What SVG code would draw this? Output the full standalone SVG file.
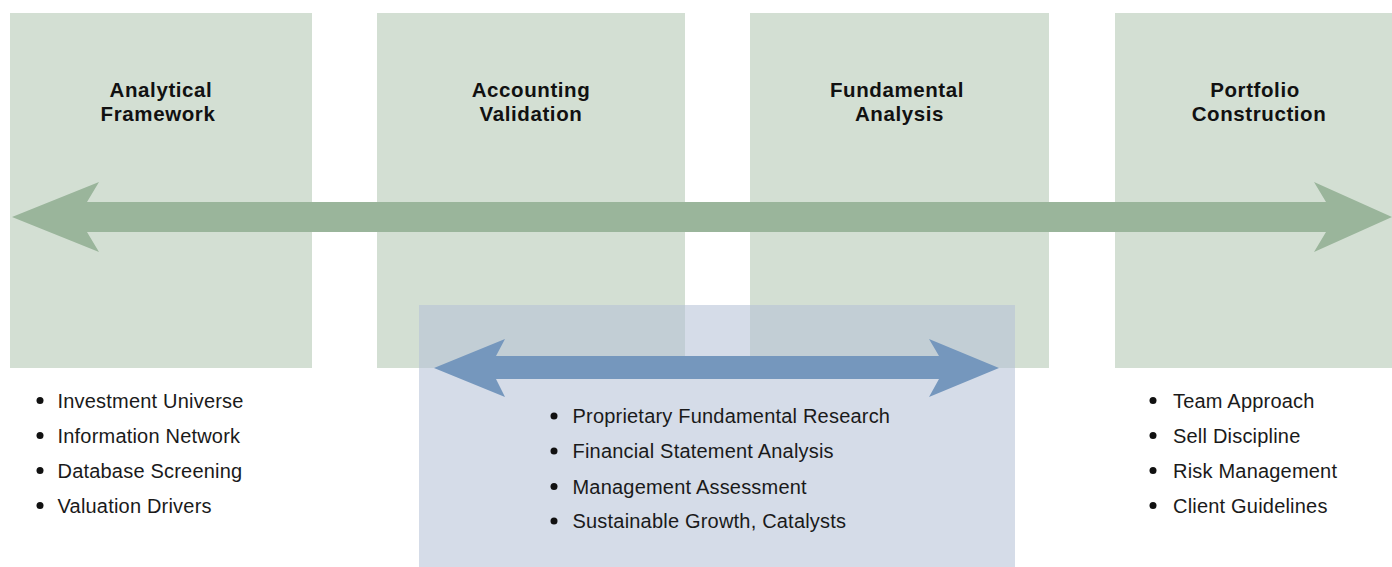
<svg xmlns="http://www.w3.org/2000/svg" width="1392" height="567" viewBox="0 0 1392 567">
<style>
.box{fill:#d3dfd3}
.title{font-family:"Liberation Sans",Arial,sans-serif;font-weight:bold;font-size:20.5px;letter-spacing:0.6px;fill:#111;text-anchor:middle}
.item{font-family:"Liberation Sans",Arial,sans-serif;font-size:20px;letter-spacing:0.2px;fill:#1a1a1a}
.dot{fill:#111}
</style>
<rect width="1392" height="567" fill="#ffffff"/>
<g id="node-analytical-framework">
<rect class="box" x="10" y="13" width="302" height="355"/>
<text class="title" x="161" y="97">Analytical</text>
<text class="title" x="158" y="121">Framework</text>
</g>
<g id="node-accounting-validation">
<rect class="box" x="377" y="13" width="308" height="355"/>
<text class="title" x="531" y="97">Accounting</text>
<text class="title" x="531" y="121">Validation</text>
</g>
<g id="node-fundamental-analysis">
<rect class="box" x="750" y="13" width="299" height="355"/>
<text class="title" x="897" y="97">Fundamental</text>
<text class="title" x="899.5" y="121">Analysis</text>
</g>
<g id="node-portfolio-construction">
<rect class="box" x="1115" y="13" width="287" height="355"/>
<text class="title" x="1255" y="97">Portfolio</text>
<text class="title" x="1259" y="121">Construction</text>
</g>
<g id="connectors">
<polygon fill="#9ab59b" points="12,217 99,182 87,202 1326,202 1314,182 1392,217 1314,252 1326,232 87,232 99,252"/>
</g>
<g id="node-research-overlay">
<rect x="419" y="305" width="596" height="262" fill="#b5c2d7" fill-opacity="0.57"/>
<polygon fill="#7597bd" points="434,368 505,339 496,356 939,356 929,339 999,368 929,397 939,379 496,379 505,397"/>
<circle class="dot" cx="554" cy="416" r="3.5"/>
<text class="item" x="572.5" y="423">Proprietary Fundamental Research</text>
<circle class="dot" cx="554" cy="451" r="3.5"/>
<text class="item" x="572.5" y="458">Financial Statement Analysis</text>
<circle class="dot" cx="554" cy="486.5" r="3.5"/>
<text class="item" x="572.5" y="493.5">Management Assessment</text>
<circle class="dot" cx="554" cy="521" r="3.5"/>
<text class="item" x="572.5" y="528">Sustainable Growth, Catalysts</text>
</g>
<g id="node-left-list">
<circle class="dot" cx="40" cy="400.5" r="3.5"/>
<text class="item" x="57.5" y="407.5">Investment Universe</text>
<circle class="dot" cx="40" cy="435.5" r="3.5"/>
<text class="item" x="57.5" y="442.5">Information Network</text>
<circle class="dot" cx="40" cy="470.5" r="3.5"/>
<text class="item" x="57.5" y="477.5">Database Screening</text>
<circle class="dot" cx="40" cy="505.5" r="3.5"/>
<text class="item" x="57.5" y="512.5">Valuation Drivers</text>
</g>
<g id="node-right-list">
<circle class="dot" cx="1153" cy="400.5" r="3.5"/>
<text class="item" x="1173" y="407.5">Team Approach</text>
<circle class="dot" cx="1153" cy="435.5" r="3.5"/>
<text class="item" x="1173" y="442.5">Sell Discipline</text>
<circle class="dot" cx="1153" cy="470.5" r="3.5"/>
<text class="item" x="1173" y="477.5">Risk Management</text>
<circle class="dot" cx="1153" cy="505.5" r="3.5"/>
<text class="item" x="1173" y="512.5">Client Guidelines</text>
</g>
</svg>
